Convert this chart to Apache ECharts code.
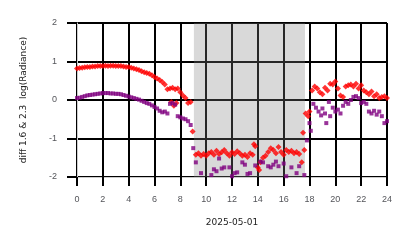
<!DOCTYPE html>
<html>
<head>
<meta charset="utf-8">
<script src="https://cdn.jsdelivr.net/npm/echarts@6/dist/echarts.min.js"></script>
<style>html,body{margin:0;padding:0;background:#fff}#c{width:414px;height:248px}#err{position:absolute;left:0;top:0;font:8px sans-serif;color:#00f;white-space:pre-wrap;width:414px}</style>
</head>
<body>
<div id="c"></div>
<div id="err"></div>
<script>
function showErr(m) { document.getElementById('err').textContent += m + '\n'; }
window.onerror = function (msg, src, line, col) { showErr('ERR ' + msg + ' @' + line + ':' + col); };
window.addEventListener('unhandledrejection', function (e) { showErr('REJ ' + e.reason); });

// x tick labels (hours of 2025-05-01) and y ticks
const xTicks = [0, 2, 4, 6, 8, 10, 12, 14, 16, 18, 20, 22, 24];
const yTicks = [-2, -1, 0, 1, 2];
const dateLabel = '2025-05-01';
const yLabel = 'diff 1.6 & 2.3  log(Radiance)';
// shaded interval (hours)
const spanStart = 9.05;
const spanEnd = 17.65;

// red series [hour, value]
const redPoints = [
  [0,0.82],[0.2,0.83],[0.4,0.84],[0.6,0.85],[0.8,0.86],[1.0,0.86],[1.2,0.87],[1.4,0.87],[1.6,0.88],[1.8,0.88],
  [2.0,0.88],[2.2,0.89],[2.4,0.88],[2.6,0.89],[2.8,0.89],[3.0,0.88],[3.2,0.88],[3.4,0.88],[3.6,0.87],[3.8,0.86],
  [4.0,0.86],[4.2,0.84],[4.4,0.82],[4.6,0.80],[4.8,0.78],[5.0,0.75],[5.2,0.72],[5.4,0.70],[5.6,0.68],[5.8,0.64],
  [6.0,0.60],[6.2,0.56],[6.4,0.52],[6.6,0.47],[6.8,0.40],[7.0,0.28],[7.2,0.30],[7.3,-0.05],[7.4,0.32],[7.5,-0.15],
  [7.6,0.28],[7.7,-0.08],[7.8,0.30],[8.0,0.20],[8.2,0.12],[8.4,0.05],[8.6,-0.08],[8.8,-0.05],[8.95,-0.82],
  [9.2,-1.42],[9.4,-1.38],[9.6,-1.45],[9.8,-1.40],[10.0,-1.45],[10.2,-1.38],[10.4,-1.35],[10.6,-1.42],[10.8,-1.32],
  [11.0,-1.40],[11.2,-1.36],[11.4,-1.30],[11.6,-1.38],[11.8,-1.45],[12.0,-1.36],[12.2,-1.40],[12.4,-1.33],[12.6,-1.38],
  [12.8,-1.45],[13.0,-1.42],[13.2,-1.48],[13.4,-1.38],[13.6,-1.42],[13.7,-1.15],[13.8,-1.20],[14.0,-1.75],[14.1,-1.82],
  [14.2,-1.62],[14.4,-1.50],[14.6,-1.45],[14.8,-1.35],[15.0,-1.25],[15.2,-1.30],[15.4,-1.38],[15.6,-1.22],[15.8,-1.35],
  [16.0,-1.42],[16.2,-1.30],[16.4,-1.35],[16.6,-1.32],[16.8,-1.38],[17.0,-1.35],[17.2,-1.40],[17.4,-1.62],[17.5,-0.85],
  [17.6,-1.30],[17.7,-0.35],[17.9,-0.42],[18.0,-0.30],[18.2,0.25],[18.4,0.35],[18.6,0.30],[18.8,0.20],[19.0,0.15],
  [19.2,0.32],[19.4,0.25],[19.6,0.42],[19.8,0.40],[20.0,0.48],[20.2,0.30],[20.4,0.12],[20.6,0.08],[20.8,0.35],
  [21.0,0.38],[21.2,0.40],[21.4,0.35],[21.6,0.42],[21.8,0.30],[22.0,0.38],[22.2,0.25],[22.4,0.20],[22.6,0.15],
  [22.8,0.22],[23.0,0.10],[23.2,0.15],[23.4,0.05],[23.6,0.08],[23.8,0.10],[24.0,0.05]
];

// purple series [hour, value]
const purplePoints = [
  [0,0.05],[0.2,0.06],[0.4,0.08],[0.6,0.10],[0.8,0.12],[1.0,0.13],[1.2,0.14],[1.4,0.15],[1.6,0.16],[1.8,0.17],
  [2.0,0.18],[2.2,0.18],[2.4,0.18],[2.6,0.17],[2.8,0.17],[3.0,0.16],[3.2,0.16],[3.4,0.15],[3.6,0.13],[3.8,0.11],
  [4.0,0.09],[4.2,0.07],[4.4,0.05],[4.6,0.03],[4.8,0.01],[5.0,-0.02],[5.2,-0.05],[5.4,-0.08],[5.6,-0.10],[5.8,-0.14],
  [6.0,-0.18],[6.2,-0.22],[6.4,-0.28],[6.6,-0.32],[6.8,-0.30],[7.0,-0.35],[7.2,-0.10],[7.4,-0.08],[7.6,-0.12],
  [7.8,-0.42],[8.0,-0.45],[8.2,-0.48],[8.4,-0.50],[8.6,-0.55],[8.8,-0.65],[9.0,-1.25],
  [9.2,-1.62],[9.4,-2.30],[9.6,-1.90],[9.8,-2.30],[10.0,-2.30],[10.2,-2.05],[10.4,-1.95],[10.6,-1.80],[10.8,-1.85],
  [11.0,-1.52],[11.2,-1.78],[11.4,-1.75],[11.6,-2.40],[11.8,-1.75],[12.0,-1.98],[12.2,-1.90],[12.4,-1.88],[12.6,-2.30],
  [12.8,-1.62],[13.0,-1.68],[13.2,-1.92],[13.4,-1.90],[13.6,-2.20],[13.8,-1.70],[14.0,-2.02],[14.2,-1.60],[14.4,-1.62],
  [14.6,-2.50],[14.8,-1.72],[15.0,-1.75],[15.2,-1.68],[15.4,-1.60],[15.6,-1.72],[15.8,-2.30],[16.0,-1.65],[16.2,-1.98],
  [16.4,-2.30],[16.6,-1.75],[16.8,-2.02],[17.0,-1.90],[17.2,-1.72],[17.4,-2.40],[17.6,-1.95],
  [17.8,-1.05],[18.0,-0.60],[18.1,-0.80],[18.3,-0.10],[18.5,-0.20],[18.7,-0.30],[18.9,-0.40],[19.0,-0.22],[19.2,-0.35],
  [19.3,-0.60],[19.5,-0.05],[19.6,-0.42],[19.8,-0.20],[20.0,-0.30],[20.2,-0.25],[20.4,-0.35],[20.6,-0.15],[20.8,-0.05],
  [21.0,-0.10],[21.2,0.00],[21.4,0.08],[21.6,0.10],[21.8,0.05],[22.0,-0.08],[22.2,-0.05],[22.4,-0.10],[22.6,-0.30],
  [22.8,-0.35],[23.0,-0.28],[23.2,-0.38],[23.4,-0.30],[23.6,-0.42],[23.8,-0.60],[24.0,-0.55]
];

try {
  const chart = echarts.init(document.getElementById('c'), null, {renderer: 'canvas'});
  chart.setOption({
    animation: false,
    grid: {left: 77, right: 27, top: 23, bottom: 71},
    graphic: [
      {type: 'text', x: 232, y: 223, silent: true,
       style: {text: dateLabel, font: '9px "DejaVu Sans"', fill: '#222', align: 'center', verticalAlign: 'middle'}},
      {type: 'text', x: 24, y: 100, rotation: Math.PI / 2, silent: true,
       style: {text: yLabel, font: '9px "DejaVu Sans"', fill: '#222', align: 'center', verticalAlign: 'middle'}}
    ],
    xAxis: {
      type: 'value', min: 0, max: 24, interval: 2,
      axisLine: {show: true, onZero: false, lineStyle: {color: '#cccccc', width: 1}},
      axisTick: {show: true, length: 9, lineStyle: {color: '#000000', width: 2}},
      axisLabel: {fontSize: 9, margin: 18},
      splitLine: {show: true, lineStyle: {color: '#000000', width: 2}}
    },
    yAxis: {
      type: 'value', min: -2, max: 2, interval: 1,
      axisLine: {show: true, onZero: false, lineStyle: {color: '#cccccc', width: 1}},
      axisTick: {show: true, length: 10, lineStyle: {color: '#000000', width: 2}},
      axisLabel: {fontSize: 9, margin: 20},
      splitLine: {show: true, lineStyle: {color: '#000000', width: 2}}
    },
    series: [
      {type: 'scatter', data: redPoints, symbol: 'diamond', symbolSize: 6,
       itemStyle: {color: '#ff0000'},
       markArea: {silent: true,
         itemStyle: {color: 'rgba(128,128,128,0.3)'},
         data: [[{xAxis: spanStart}, {xAxis: spanEnd}]]}},
      {type: 'scatter', data: purplePoints, symbol: 'rect', symbolSize: 4,
       itemStyle: {color: '#800080'}}
    ]
  });
  chart.getZr().flush();
} catch (e) {
  showErr('CATCH ' + e.message + ' ' + (e.stack || '').split('\n').slice(1, 3).join(' | '));
}
</script>
</body>
</html>
